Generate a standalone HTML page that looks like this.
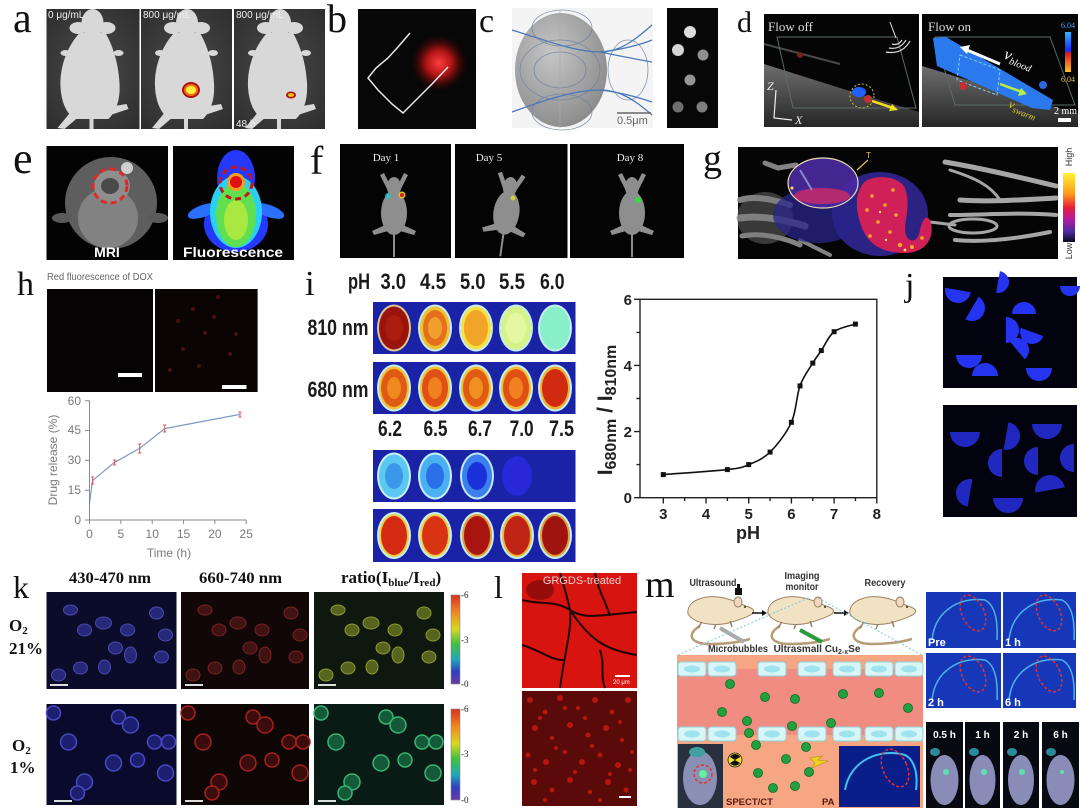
<!DOCTYPE html>
<html><head><meta charset="utf-8">
<style>
html,body{margin:0;padding:0;background:#fff;}
svg{display:block;}
text{font-family:"Liberation Sans",sans-serif;}
.sf, .sf text, text.sf{font-family:"Liberation Serif",serif;}
</style></head><body>
<svg width="1080" height="809" viewBox="0 0 1080 809" xmlns="http://www.w3.org/2000/svg">
<defs>
<radialGradient id="rglow"><stop offset="0" stop-color="#ff4040"/><stop offset=".45" stop-color="#d01818" stop-opacity=".85"/><stop offset="1" stop-color="#500000" stop-opacity="0"/></radialGradient>
<radialGradient id="sph" cx=".4" cy=".35" r=".7"><stop offset="0" stop-color="#c6c6c6"/><stop offset="1" stop-color="#8a8a8a"/></radialGradient>
<linearGradient id="gcb" x1="0" y1="0" x2="0" y2="1"><stop offset="0" stop-color="#fff23a"/><stop offset=".3" stop-color="#ff9a1a"/><stop offset=".5" stop-color="#e8203a"/><stop offset=".68" stop-color="#b01aa0"/><stop offset=".85" stop-color="#4a2aa0"/><stop offset="1" stop-color="#0a0820"/></linearGradient>
<linearGradient id="kcb" x1="0" y1="0" x2="0" y2="1"><stop offset="0" stop-color="#d83020"/><stop offset=".2" stop-color="#f08a20"/><stop offset=".38" stop-color="#d8d820"/><stop offset=".55" stop-color="#40c040"/><stop offset=".72" stop-color="#20a8b8"/><stop offset=".86" stop-color="#3040c0"/><stop offset="1" stop-color="#6a3aa8"/></linearGradient>
<linearGradient id="dcb" x1="0" y1="0" x2="0" y2="1"><stop offset="0" stop-color="#30b8ff"/><stop offset=".45" stop-color="#1030ff"/><stop offset=".55" stop-color="#e02020"/><stop offset="1" stop-color="#f8c020"/></linearGradient>
<linearGradient id="tis" x1="0" y1="0" x2="0" y2="1"><stop offset="0" stop-color="#6e6e6e"/><stop offset="1" stop-color="#262626"/></linearGradient>
<radialGradient id="abg" cx=".5" cy=".5" r=".7"><stop offset="0" stop-color="#4a4a4a"/><stop offset="1" stop-color="#2e2e2e"/></radialGradient>
<g id="ms" fill="#d8d8d8">
 <ellipse cx="46" cy="14" rx="11" ry="14"/>
 <ellipse cx="32" cy="19" rx="9" ry="6"/>
 <ellipse cx="60" cy="19" rx="9" ry="6"/>
 <path d="M33 24 C22 36 13 56 14 78 C15 94 20 104 28 110 L62 110 C70 102 74 90 73 74 C72 54 66 36 59 24 Z"/>
 <ellipse cx="19" cy="44" rx="5" ry="3"/><ellipse cx="72" cy="44" rx="5" ry="3"/>
 <path d="M25 102 L11 119 L18 120 L32 108 Z"/>
 <path d="M62 98 L80 95 L82 100 L64 106 Z"/>
 <rect x="43" y="106" width="4" height="14"/>
</g>
<g id="fm" fill="#8e8e8e">
 <ellipse cx="0" cy="0" rx="7" ry="10"/>
 <path d="M-6 4 L-14 -12 L-10 -14 L-3 0 Z"/><path d="M6 4 L14 -12 L10 -14 L3 0 Z"/>
 <ellipse cx="0" cy="26" rx="13" ry="22"/>
 <path d="M-9 38 L-22 44 L-20 48 L-6 44 Z"/><path d="M9 38 L22 44 L20 48 L6 44 Z"/>
 <rect x="-1" y="44" width="2" height="26"/>
</g>
<g id="cellrow1">
 <ellipse cx="24" cy="18" rx="7" ry="5"/><ellipse cx="38" cy="38" rx="7" ry="6"/><ellipse cx="57" cy="31" rx="8" ry="6"/>
 <ellipse cx="81" cy="38" rx="7" ry="6"/><ellipse cx="110" cy="21" rx="7" ry="6"/><ellipse cx="119" cy="43" rx="7" ry="6"/>
 <ellipse cx="69" cy="56" rx="7" ry="6"/><ellipse cx="84" cy="63" rx="6" ry="8"/><ellipse cx="115" cy="65" rx="7" ry="6"/>
 <ellipse cx="34" cy="76" rx="7" ry="6"/><ellipse cx="58" cy="75" rx="6" ry="7"/><ellipse cx="12" cy="83" rx="7" ry="6"/>
</g>
<g id="cellrow2">
 <circle cx="7" cy="9" r="7"/><circle cx="22" cy="38" r="8"/><circle cx="72" cy="13" r="7"/><circle cx="84" cy="21" r="8"/>
 <circle cx="108" cy="38" r="7"/><circle cx="122" cy="38" r="7"/><circle cx="67" cy="59" r="8"/><circle cx="38" cy="78" r="8"/>
 <circle cx="31" cy="89" r="7"/><circle cx="91" cy="56" r="7"/><circle cx="119" cy="69" r="8"/>
</g>
<g id="rat">
 <path d="M-16,14 C-30,22 -26,32 -6,32 C10,32 24,30 34,27" fill="none" stroke="#b89c78" stroke-width="2.5"/>
 <path d="M-28,2 C-30,-12 -10,-18 8,-14 C18,-12 24,-8 30,-6 C36,-4 40,-2 36,2 C30,6 22,8 16,10 C4,14 -20,14 -28,2 Z" fill="#f2e2c4" stroke="#9a8262" stroke-width="1"/>
 <ellipse cx="22" cy="-10" rx="4" ry="5" fill="#f3d6c0" stroke="#9a8262" stroke-width="1"/>
 <path d="M-14,10 L-18,16 M0,12 L-2,17 M14,9 L16,15" stroke="#9a8262" stroke-width="1.5"/>
 <circle cx="29" cy="-5" r="1" fill="#333"/>
</g>
<g id="cell"><rect x="0" y="0" width="28" height="14" rx="3" fill="#d9f5f7" stroke="#8fd3dc" stroke-width="1"/><ellipse cx="14" cy="7" rx="8" ry="3.5" fill="#9fe3ee"/></g>
</defs>

<rect width="1080" height="809" fill="#fff"/>

<!-- labels -->
<g fill="#111">
<text class="sf" x="13" y="32" font-size="42">a</text>
<text class="sf" x="327" y="32" font-size="40">b</text>
<text class="sf" x="479" y="32" font-size="34">c</text>
<text class="sf" x="737" y="32" font-size="30">d</text>
<text class="sf" x="13" y="173" font-size="44">e</text>
<text class="sf" x="310" y="174" font-size="40">f</text>
<text class="sf" x="703" y="171" font-size="38">g</text>
<text class="sf" x="17" y="295" font-size="34">h</text>
<text class="sf" x="305" y="295" font-size="35">i</text>
<text class="sf" x="905" y="296" font-size="34">j</text>
<text class="sf" x="13" y="598" font-size="32">k</text>
<text class="sf" x="494" y="598" font-size="32">l</text>
<text class="sf" x="645" y="597" font-size="38">m</text>
</g>

<!-- a -->
<rect x="46.5" y="9" width="93" height="120" fill="url(#abg)"/>
<rect x="141" y="9" width="91" height="120" fill="url(#abg)"/>
<rect x="234" y="9" width="91" height="120" fill="url(#abg)"/>
<use href="#ms" transform="translate(46.5,9)"/>
<use href="#ms" transform="translate(141,9)"/>
<use href="#ms" transform="translate(234,9)"/>
<ellipse cx="191" cy="90" rx="9" ry="8" fill="#b01010"/>
<ellipse cx="191" cy="90" rx="7" ry="6" fill="#f07010"/>
<ellipse cx="191" cy="90" rx="5" ry="4" fill="#fff040"/>
<ellipse cx="291" cy="95" rx="5" ry="3.5" fill="#b01010"/>
<ellipse cx="291" cy="95" rx="3" ry="2" fill="#f0c020"/>
<g fill="#f0f0f0" font-size="10">
<text x="48" y="18">0 μg/mL</text>
<text x="143" y="18">800 μg/mL</text>
<text x="236" y="18">800 μg/mL</text>
<text x="236" y="127">48 h</text>
</g>

<!-- b -->
<rect x="358" y="9" width="118" height="120" fill="#070707"/>
<circle cx="439" cy="63" r="28" fill="url(#rglow)"/>
<polyline points="410,33 398,47 388,58 376,68 368,78 378,90 392,104 403,113 418,98 432,84 448,67" fill="none" stroke="#e8e8e8" stroke-width="1.5"/>

<!-- c -->
<rect x="512" y="8" width="141" height="120" fill="#f4f4f4"/>
<ellipse cx="561" cy="70" rx="46" ry="57" fill="url(#sph)"/>
<g fill="none" stroke="#6a7e9a" stroke-width=".8" opacity=".8">
<ellipse cx="560" cy="70" rx="26" ry="18"/>
<ellipse cx="560" cy="70" rx="40" ry="30"/>
<ellipse cx="628" cy="70" rx="20" ry="30"/>
<ellipse cx="562" cy="28" rx="30" ry="18"/>
<ellipse cx="562" cy="112" rx="30" ry="18"/>
<line x1="560" y1="10" x2="560" y2="128" stroke="#aaa"/>
</g>
<g fill="none" stroke="#4a78b8" stroke-width="1.3">
<path d="M512,30 C545,40 575,52 600,52 C620,52 635,40 652,25"/>
<path d="M600,52 C620,50 640,45 652,40"/>
<path d="M600,52 C620,56 640,60 652,62"/>
<path d="M512,112 C545,100 575,90 600,90 C620,90 635,100 652,115"/>
<path d="M600,90 C620,92 640,98 652,102"/>
</g>
<line x1="617" y1="113" x2="651" y2="113" stroke="#666" stroke-width="1.5"/>
<text x="617" y="124" font-size="11" fill="#666">0.5μm</text>
<rect x="667" y="8" width="51" height="120" fill="#070707"/>
<circle cx="690" cy="32" r="6" fill="#dcdcdc"/>
<circle cx="678" cy="50" r="6" fill="#d4d4d4"/>
<circle cx="703" cy="55" r="5.5" fill="#8e8e8e"/>
<circle cx="690" cy="80" r="5.5" fill="#959595"/>
<circle cx="678" cy="107" r="5.5" fill="#6e6e6e"/>
<circle cx="702" cy="107" r="5.5" fill="#7e7e7e"/>

<!-- d -->
<rect x="764" y="14" width="155" height="113" fill="#050505"/>
<rect x="922" y="14" width="156" height="113" fill="#050505"/>
<polygon points="764,64 840,88 919,112 919,127 764,127" fill="url(#tis)"/>
<polygon points="922,66 1000,90 1078,114 1078,127 922,127" fill="url(#tis)"/>
<line x1="764" y1="44" x2="840" y2="64" stroke="#4a4a4a" stroke-width="2"/>
<polygon points="777,37 897,37 916,108 793,108" fill="none" stroke="#5a6a6a" stroke-width="1"/>
<polygon points="935,37 1050,37 1075,105 955,105" fill="none" stroke="#5a6a6a" stroke-width="1"/>
<text class="sf" x="768" y="31" font-size="13" fill="#ddd">Flow off</text>
<text class="sf" x="928" y="31" font-size="13" fill="#ddd">Flow on</text>
<circle cx="800" cy="55" r="3" fill="#7a2020"/>
<circle cx="862" cy="96" r="12" fill="none" stroke="#c8c040" stroke-width="1" stroke-dasharray="2,2"/>
<ellipse cx="859" cy="92" rx="7" ry="5" fill="#2060ff"/>
<circle cx="868" cy="99" r="4" fill="#c03030"/>
<line x1="872" y1="101" x2="893" y2="108" stroke="#f0e020" stroke-width="2.5"/>
<polygon points="898,110 889,111 892,104" fill="#f0e020"/>
<line x1="890" y1="22" x2="896" y2="38" stroke="#eee" stroke-width="1"/>
<path d="M892,44 Q898,46 902,40 M889,48 Q900,50 906,40 M886,52 Q902,55 910,41" fill="none" stroke="#ddd" stroke-width="1.2"/>
<path d="M776,90 L774,118 L792,120" fill="none" stroke="#eee" stroke-width="1.2"/>
<text class="sf" x="767" y="90" font-size="12" font-style="italic" fill="#eee">Z</text>
<text class="sf" x="795" y="124" font-size="12" font-style="italic" fill="#eee">X</text>
<polygon points="933,38 946,37 1053,100 1050,110 1032,108 937,66" fill="#2a7aee"/>
<circle cx="1043" cy="85" r="4" fill="#2a6ae0"/>
<line x1="1000" y1="64" x2="967" y2="50" stroke="#fff" stroke-width="3"/>
<polygon points="960,47 970,45 967,54" fill="#fff"/>
<text class="sf" x="1003" y="58" font-size="16" font-style="italic" fill="#fff" transform="rotate(22 1003 58)">v<tspan font-size="10" dy="3">blood</tspan></text>
<polygon points="960,55 1000,70 997,95 957,80" fill="none" stroke="#80d0f0" stroke-width="1" stroke-dasharray="3,2"/>
<circle cx="963" cy="86" r="4" fill="#c03030"/>
<line x1="1000" y1="84" x2="1022" y2="92" stroke="#b8f040" stroke-width="2.5"/>
<polygon points="1027,94 1018,96 1021,88" fill="#b8f040"/>
<text class="sf" x="1008" y="107" font-size="12" font-style="italic" fill="#d8d020" transform="rotate(22 1008 107)">v<tspan font-size="9" dy="3">swarm</tspan></text>
<rect x="1065" y="32" width="6" height="40" fill="url(#dcb)"/>
<text class="sf" x="1061" y="28" font-size="8" fill="#4aa0ff">6.04</text>
<text class="sf" x="1061" y="82" font-size="8" fill="#d8c040">6.04</text>
<text class="sf" x="1054" y="114" font-size="10" fill="#fff">2 mm</text>
<rect x="1058" y="118" width="13" height="4" fill="#fff"/>

<!-- e -->
<rect x="46.5" y="146" width="121.5" height="114" fill="#030303"/>
<rect x="173" y="146" width="121" height="114" fill="#030303"/>
<ellipse cx="111" cy="203" rx="46" ry="46" fill="#5e5e5e"/>
<ellipse cx="108" cy="218" rx="30" ry="30" fill="#828282"/>
<ellipse cx="112" cy="186" rx="18" ry="16" fill="#8e8e8e"/>
<ellipse cx="110" cy="186" rx="9" ry="8" fill="#4a4a4a"/>
<ellipse cx="62" cy="218" rx="10" ry="5" fill="#5a5a5a"/>
<ellipse cx="158" cy="218" rx="10" ry="5" fill="#5a5a5a"/>
<circle cx="127" cy="168" r="6" fill="#cfcfcf"/>
<circle cx="110" cy="186" r="17" fill="none" stroke="#e02828" stroke-width="3" stroke-dasharray="6,4"/>
<text x="107" y="257" font-size="14" font-weight="bold" fill="#fff" text-anchor="middle">MRI</text>
<g>
<ellipse cx="236" cy="178" rx="19" ry="28" fill="#2438ff"/>
<ellipse cx="236" cy="224" rx="32" ry="28" fill="#2438ff"/>
<ellipse cx="203" cy="211" rx="16" ry="6" fill="#2a70ff" transform="rotate(-20 203 211)"/>
<ellipse cx="269" cy="211" rx="16" ry="6" fill="#2a70ff" transform="rotate(20 269 211)"/>
<ellipse cx="236" cy="212" rx="26" ry="36" fill="#2ad0f0"/>
<ellipse cx="236" cy="215" rx="20" ry="32" fill="#60e050"/>
<ellipse cx="236" cy="220" rx="12" ry="20" fill="#a8e840"/>
<circle cx="236" cy="182" r="9" fill="#f0a020"/>
<circle cx="236" cy="182" r="6" fill="#e01010"/>
<circle cx="236" cy="183" r="16" fill="none" stroke="#c01818" stroke-width="3" stroke-dasharray="6,4"/>
</g>
<text x="233" y="257" font-size="14" font-weight="bold" fill="#fff" text-anchor="middle" textLength="100" lengthAdjust="spacingAndGlyphs">Fluorescence</text>

<!-- f -->
<rect x="340" y="144" width="111" height="114" fill="#040404"/>
<rect x="455" y="144" width="112.5" height="114" fill="#040404"/>
<rect x="570" y="144" width="114" height="114" fill="#040404"/>
<g font-size="11" fill="#eee" text-anchor="middle">
<text class="sf" x="386" y="161">Day 1</text><text class="sf" x="489" y="161">Day 5</text><text class="sf" x="630" y="161">Day 8</text>
</g>
<use href="#fm" transform="translate(394,187)"/>
<use href="#fm" transform="translate(510,187) rotate(8)"/>
<use href="#fm" transform="translate(632,187)"/>
<circle cx="402" cy="195" r="3.5" fill="#e0c020"/><circle cx="402" cy="195" r="2" fill="#d02020"/>
<circle cx="388" cy="196" r="3" fill="#30c0d0" opacity=".8"/>
<circle cx="513" cy="198" r="2.5" fill="#c8d040"/>
<circle cx="638" cy="200" r="3" fill="#30e040"/>

<!-- g -->
<rect x="738" y="147" width="320" height="112" fill="#050505"/>
<g fill="none" stroke="#9a9a9a" stroke-linecap="round" opacity=".85">
<path d="M740,200 C755,195 775,200 790,205" stroke-width="6"/>
<path d="M740,218 C760,215 785,220 805,226" stroke-width="7"/>
<path d="M742,236 C760,232 785,238 800,245" stroke-width="5"/>
<path d="M765,163 L778,168 L796,165" stroke-width="5"/>
<path d="M800,240 L830,255" stroke-width="4"/>
</g>
<ellipse cx="765" cy="218" rx="28" ry="26" fill="#7a7a7a" opacity=".45"/>
<g fill="none" stroke="#b8b8b8" stroke-linecap="round" opacity=".9">
<path d="M945,162 C980,168 1010,175 1056,186" stroke-width="5"/>
<path d="M950,170 C975,178 990,185 1000,200" stroke-width="3"/>
<path d="M960,200 C990,202 1020,200 1056,198" stroke-width="5"/>
<path d="M950,215 C985,215 1020,212 1056,215" stroke-width="4"/>
<path d="M955,240 C985,243 1020,238 1050,232" stroke-width="4"/>
<ellipse cx="973" cy="226" rx="24" ry="7" stroke-width="3"/>
<path d="M930,222 L955,225" stroke-width="3"/>
</g>
<ellipse cx="880" cy="214" rx="48" ry="42" fill="#33289a" opacity=".85"/>
<ellipse cx="818" cy="215" rx="45" ry="28" fill="#28248a" opacity=".75"/>
<ellipse cx="823" cy="183" rx="35" ry="25" fill="#4a2aa0" opacity=".9"/>
<ellipse cx="822" cy="196" rx="28" ry="8" fill="#c82a68" opacity=".85"/>
<path d="M800,170 L812,190" stroke="#8888cc" stroke-width="2"/>
<path d="M862,185 C868,174 898,174 905,188 C912,208 902,225 906,235 C910,244 918,242 920,230 C922,220 926,214 930,220 C936,238 925,253 905,253 C880,253 866,243 860,222 C855,205 856,195 862,185 Z" fill="#d02058"/>
<g fill="#ffa828"><circle cx="872" cy="196" r="1.8"/><circle cx="885" cy="205" r="1.8"/><circle cx="878" cy="222" r="1.8"/><circle cx="900" cy="245" r="2.2"/><circle cx="912" cy="247" r="2"/><circle cx="893" cy="190" r="1.8"/><circle cx="870" cy="236" r="1.8"/><circle cx="890" cy="232" r="1.8"/><circle cx="922" cy="238" r="1.8"/><circle cx="896" cy="215" r="1.8"/><circle cx="867" cy="210" r="1.8"/></g>
<g fill="#ffe060"><circle cx="880" cy="212" r="1.2"/><circle cx="905" cy="250" r="1.4"/><circle cx="886" cy="240" r="1.2"/><circle cx="792" cy="188" r="1.5"/></g>
<ellipse cx="823" cy="183" rx="35" ry="25" fill="none" stroke="#e8dcb0" stroke-width="1.2"/>
<line x1="857" y1="170" x2="868" y2="160" stroke="#e8c060" stroke-width="1.2"/>
<text x="866" y="158" font-size="8" fill="#e8c060">T</text>
<rect x="1063" y="173" width="12" height="69" fill="url(#gcb)"/>
<text x="0" y="0" font-size="9" fill="#333" text-anchor="middle" transform="translate(1072,157) rotate(-90)">High</text>
<text x="0" y="0" font-size="9" fill="#333" text-anchor="middle" transform="translate(1072,251) rotate(-90)">Low</text>

<!-- h -->
<text x="47" y="280" font-size="10.5" fill="#666" textLength="106" lengthAdjust="spacingAndGlyphs">Red fluorescence of DOX</text>
<rect x="47" y="289" width="106" height="103" fill="#050303"/>
<rect x="155" y="289" width="102.6" height="103" fill="#0a0404"/>
<g fill="#4a1010"><circle cx="178" cy="321" r="2"/><circle cx="193" cy="309" r="2"/><circle cx="205" cy="333" r="2"/><circle cx="183" cy="349" r="2"/><circle cx="214" cy="317" r="2"/><circle cx="199" cy="366" r="2"/><circle cx="230" cy="354" r="2"/><circle cx="170" cy="370" r="2"/><circle cx="218" cy="297" r="2"/><circle cx="236" cy="334" r="2"/></g>
<rect x="118" y="373" width="24" height="4" fill="#fff"/>
<rect x="222" y="385" width="24.5" height="4" fill="#fff"/>
<g stroke="#8a8a8a" stroke-width="1" fill="none">
<path d="M89.5,400.7 L89.5,520 L246.2,520"/>
<path d="M85,520 H89.5 M85,490.2 H89.5 M85,460.4 H89.5 M85,430.5 H89.5 M85,400.7 H89.5"/>
<path d="M89.5,520 V524 M120.85,520 V524 M152.2,520 V524 M183.55,520 V524 M214.9,520 V524 M246.2,520 V524"/>
</g>
<g font-size="12" fill="#7a7a7a">
<g text-anchor="end"><text x="81" y="524">0</text><text x="81" y="494">15</text><text x="81" y="464">30</text><text x="81" y="434">45</text><text x="81" y="405">60</text></g>
<g text-anchor="middle"><text x="89.5" y="538">0</text><text x="120.85" y="538">5</text><text x="152.2" y="538">10</text><text x="183.55" y="538">15</text><text x="214.9" y="538">20</text><text x="246.2" y="538">25</text></g>
<text x="169" y="557" text-anchor="middle">Time (h)</text>
<text x="0" y="0" text-anchor="middle" transform="translate(57,460) rotate(-90)">Drug release (%)</text>
</g>
<polyline points="89.5,503.3 92.6,480.6 114.6,462.3 139.7,448.4 164.7,428.6 240,414.4" fill="none" stroke="#7d9ac8" stroke-width="1.2"/>
<g stroke="#e05858" stroke-width="1" fill="none">
<path d="M92.6,477 V484 M91,477 H94.2 M91,484 H94.2"/>
<path d="M114.6,460 V465 M113,460 H116.2 M113,465 H116.2"/>
<path d="M139.7,444 V453 M138,444 H141.4 M138,453 H141.4"/>
<path d="M164.7,425 V432 M163,425 H166.4 M163,432 H166.4"/>
<path d="M240,412 V417 M238.4,412 H241.6 M238.4,417 H241.6"/>
<path d="M89.5,498 V508"/>
</g>

<!-- i wells -->
<g font-weight="bold" font-size="22" fill="#1a1a1a">
<text x="348" y="289" textLength="22" lengthAdjust="spacingAndGlyphs">pH</text>
<text x="380.5" y="289" textLength="25.5" lengthAdjust="spacingAndGlyphs">3.0</text>
<text x="420" y="289" textLength="26" lengthAdjust="spacingAndGlyphs">4.5</text>
<text x="460" y="289" textLength="25.5" lengthAdjust="spacingAndGlyphs">5.0</text>
<text x="499" y="289" textLength="26" lengthAdjust="spacingAndGlyphs">5.5</text>
<text x="540" y="289" textLength="24.5" lengthAdjust="spacingAndGlyphs">6.0</text>
<text x="307.5" y="335" textLength="61" lengthAdjust="spacingAndGlyphs">810 nm</text>
<text x="307.5" y="397" textLength="61" lengthAdjust="spacingAndGlyphs">680 nm</text>
<text x="378" y="436" textLength="24" lengthAdjust="spacingAndGlyphs">6.2</text>
<text x="423.5" y="436" textLength="24" lengthAdjust="spacingAndGlyphs">6.5</text>
<text x="468" y="436" textLength="24" lengthAdjust="spacingAndGlyphs">6.7</text>
<text x="509.6" y="436" textLength="24" lengthAdjust="spacingAndGlyphs">7.0</text>
<text x="549" y="436" textLength="25" lengthAdjust="spacingAndGlyphs">7.5</text>
</g>
<rect x="373" y="302" width="202.5" height="52" fill="#1a22a6"/>
<rect x="373" y="362" width="202.5" height="52" fill="#1a22a6"/>
<rect x="373" y="450" width="202.5" height="52" fill="#1a22a6"/>
<rect x="373" y="509" width="202.5" height="53" fill="#1a22a6"/>
<g transform="translate(394,328)"><ellipse rx="17" ry="23.5" fill="#d8c898"/><ellipse rx="15" ry="21.5" fill="#9a140c"/><ellipse rx="9" ry="13" fill="#b02010" opacity=".7"/></g>
<g transform="translate(435,328)"><ellipse rx="17" ry="23.5" fill="#c8ecf4"/><ellipse rx="15" ry="21.5" fill="#f0c030"/><ellipse rx="12" ry="18" fill="#e4701c"/><ellipse rx="7" ry="11" fill="#f0a030"/></g>
<g transform="translate(476,328)"><ellipse rx="17" ry="23.5" fill="#c8ecf4"/><ellipse rx="15" ry="21.5" fill="#f8e040"/><ellipse rx="12" ry="18" fill="#f0a428"/></g>
<g transform="translate(516,328)"><ellipse rx="17" ry="23.5" fill="#c8ecf4"/><ellipse rx="15" ry="21.5" fill="#d4f488"/><ellipse rx="10" ry="15" fill="#e4f8a4"/></g>
<g transform="translate(555,328)"><ellipse rx="17" ry="23.5" fill="#c8ecf4"/><ellipse rx="15" ry="21.5" fill="#88f0c8"/></g>
<g transform="translate(394,388)"><ellipse rx="17" ry="23.5" fill="#c8ecf4"/><ellipse rx="15" ry="21.5" fill="#f0c030"/><ellipse rx="13" ry="19" fill="#e05a14"/><ellipse rx="7" ry="11" fill="#f08a20"/></g>
<g transform="translate(435,388)"><ellipse rx="17" ry="23.5" fill="#c8ecf4"/><ellipse rx="15" ry="21.5" fill="#f0c030"/><ellipse rx="13" ry="19" fill="#e05014"/><ellipse rx="7" ry="11" fill="#f08020"/></g>
<g transform="translate(476,388)"><ellipse rx="17" ry="23.5" fill="#c8ecf4"/><ellipse rx="15" ry="21.5" fill="#f0c030"/><ellipse rx="13" ry="19" fill="#e05a14"/><ellipse rx="7" ry="11" fill="#f09020"/></g>
<g transform="translate(516,388)"><ellipse rx="17" ry="23.5" fill="#c8ecf4"/><ellipse rx="15" ry="21.5" fill="#f0c030"/><ellipse rx="13" ry="19" fill="#e05014"/><ellipse rx="7" ry="11" fill="#f08020"/></g>
<g transform="translate(555,388)"><ellipse rx="17" ry="23.5" fill="#c8ecf4"/><ellipse rx="15" ry="21.5" fill="#f0b030"/><ellipse rx="13" ry="19" fill="#d02a10"/></g>
<g transform="translate(394,476)"><ellipse rx="17" ry="23.5" fill="#c8f0f8"/><ellipse rx="15" ry="21.5" fill="#5ac8f0"/><ellipse rx="9" ry="13" fill="#3a98ec"/></g>
<g transform="translate(435,476)"><ellipse rx="17" ry="23.5" fill="#c8f0f8"/><ellipse rx="15" ry="21.5" fill="#4ab0f0"/><ellipse rx="9" ry="13" fill="#2a70e8"/></g>
<g transform="translate(477,476)"><ellipse rx="17" ry="23.5" fill="#c0e8f8"/><ellipse rx="15" ry="21.5" fill="#3a80ee"/><ellipse rx="10" ry="14" fill="#1a30d8"/></g>
<ellipse cx="517" cy="476" rx="15" ry="20" fill="#2828d8"/>
<g transform="translate(394,535.5)"><ellipse rx="17" ry="23.5" fill="#c8ecf4"/><ellipse rx="15" ry="21.5" fill="#f0d040"/><ellipse rx="13" ry="19.5" fill="#d42a12"/></g>
<g transform="translate(435,535.5)"><ellipse rx="17" ry="23.5" fill="#c8ecf4"/><ellipse rx="15" ry="21.5" fill="#f0d040"/><ellipse rx="13" ry="19.5" fill="#d83414"/></g>
<g transform="translate(477,535.5)"><ellipse rx="17" ry="23.5" fill="#c8ecf4"/><ellipse rx="15" ry="21.5" fill="#e0a030"/><ellipse rx="13" ry="19.5" fill="#a81410"/></g>
<g transform="translate(517,535.5)"><ellipse rx="17" ry="23.5" fill="#c8ecf4"/><ellipse rx="15" ry="21.5" fill="#e8b838"/><ellipse rx="13" ry="19.5" fill="#c02414"/></g>
<g transform="translate(555,535.5)"><ellipse rx="17" ry="23.5" fill="#c8ecf4"/><ellipse rx="15" ry="21.5" fill="#e0a030"/><ellipse rx="13" ry="19.5" fill="#a01410"/></g>

<!-- i chart -->
<rect x="640" y="299.3" width="236.8" height="198.4" fill="none" stroke="#222" stroke-width="1.4"/>
<g stroke="#222" stroke-width="1.4">
<path d="M640,497.7 H634 M640,431.6 H634 M640,365.4 H634 M640,299.3 H634"/>
<path d="M640,464.6 H636.5 M640,398.5 H636.5 M640,332.4 H636.5"/>
<path d="M663.3,497.7 V503.5 M706,497.7 V503.5 M748.7,497.7 V503.5 M791.4,497.7 V503.5 M834.1,497.7 V503.5 M876.8,497.7 V503.5"/>
<path d="M684.65,497.7 V501 M727.35,497.7 V501 M770.05,497.7 V501 M812.75,497.7 V501 M855.45,497.7 V501"/>
</g>
<g font-weight="bold" font-size="15" fill="#222">
<g text-anchor="end"><text x="632" y="503">0</text><text x="632" y="437">2</text><text x="632" y="371">4</text><text x="632" y="305">6</text></g>
<g text-anchor="middle"><text x="663.3" y="519">3</text><text x="706" y="519">4</text><text x="748.7" y="519">5</text><text x="791.4" y="519">6</text><text x="834.1" y="519">7</text><text x="876.8" y="519">8</text></g>
<text x="748" y="539" text-anchor="middle" font-size="18">pH</text>
<text x="0" y="0" text-anchor="middle" font-size="21" transform="translate(612,410) rotate(-90)">I<tspan font-size="16" dy="4">680nm</tspan><tspan dy="-4"> / I</tspan><tspan font-size="16" dy="4">810nm</tspan></text>
</g>
<g transform="translate(663.3 497.7) scale(42.7 -33.07) translate(-3 0)">
<path d="M3 0.7 C3.25 0.725 4.167 0.8 4.5 0.85 C4.833 0.9 4.833 0.912 5 1.0 C5.167 1.088 5.333 1.167 5.5 1.38 C5.667 1.593 5.883 1.947 6 2.28 C6.117 2.613 6.117 3.082 6.2 3.38 C6.283 3.678 6.417 3.892 6.5 4.07 C6.583 4.248 6.617 4.292 6.7 4.45 C6.783 4.608 6.867 4.887 7 5.02 C7.133 5.153 7.417 5.212 7.5 5.25" fill="none" stroke="#111" stroke-width="1.6" vector-effect="non-scaling-stroke"/>
</g>
<g fill="#111">
<rect x="660.8" y="472.1" width="5" height="5"/><rect x="724.9" y="467.1" width="5" height="5"/><rect x="746.2" y="462.1" width="5" height="5"/>
<rect x="767.6" y="449.6" width="5" height="5"/><rect x="788.9" y="419.8" width="5" height="5"/><rect x="797.5" y="383.4" width="5" height="5"/>
<rect x="810.3" y="360.6" width="5" height="5"/><rect x="818.8" y="348" width="5" height="5"/><rect x="831.6" y="329.2" width="5" height="5"/>
<rect x="852.9" y="321.6" width="5" height="5"/>
</g>

<!-- j -->
<rect x="943" y="277" width="134" height="111" fill="#030310"/>
<rect x="943" y="405" width="134" height="112" fill="#030310"/>
<g fill="#2434f0">
<path d="M-13,0 A13,13 0 0 0 13,0 Z" transform="translate(958,290) rotate(10)"/>
<path d="M-13,0 A13,13 0 0 0 13,0 Z" transform="translate(972,308) rotate(-60)"/>
<path d="M-11,0 A11,11 0 0 0 11,0 Z" transform="translate(998,282) rotate(-80)"/>
<path d="M-12,0 A12,12 0 0 0 12,0 Z" transform="translate(1024,314) rotate(180)"/>
<path d="M-13,0 A13,13 0 0 0 13,0 Z" transform="translate(1006,330) rotate(-90)"/>
<path d="M-12,0 A12,12 0 0 0 12,0 Z" transform="translate(1032,332) rotate(20)"/>
<path d="M-12,0 A12,12 0 0 0 12,0 Z" transform="translate(1017,350) rotate(-130)"/>
<path d="M-13,0 A13,13 0 0 0 13,0 Z" transform="translate(969,355) rotate(0)"/>
<path d="M-13,0 A13,13 0 0 0 13,0 Z" transform="translate(985,376) rotate(180)"/>
<path d="M-13,0 A13,13 0 0 0 13,0 Z" transform="translate(1039,368) rotate(0)"/>
<path d="M-10,0 A10,10 0 0 0 10,0 Z" transform="translate(1070,286) rotate(0)"/>
</g>
<g fill="#2028c0">
<path d="M-15,0 A15,15 0 0 0 15,0 Z" transform="translate(965,432) rotate(0)"/>
<path d="M-14,0 A14,14 0 0 0 14,0 Z" transform="translate(1006,436) rotate(-80)"/>
<path d="M-15,0 A15,15 0 0 0 15,0 Z" transform="translate(1047,424) rotate(0)"/>
<path d="M-14,0 A14,14 0 0 0 14,0 Z" transform="translate(1002,463) rotate(90)"/>
<path d="M-14,0 A14,14 0 0 0 14,0 Z" transform="translate(1038,461) rotate(90)"/>
<path d="M-14,0 A14,14 0 0 0 14,0 Z" transform="translate(1074,458) rotate(90)"/>
<path d="M-14,0 A14,14 0 0 0 14,0 Z" transform="translate(970,493) rotate(100)"/>
<path d="M-15,0 A15,15 0 0 0 15,0 Z" transform="translate(1008,498) rotate(0)"/>
<path d="M-15,0 A15,15 0 0 0 15,0 Z" transform="translate(1050,490) rotate(170)"/>
</g>

<!-- k -->
<g font-weight="bold" fill="#111">
<text class="sf" x="69" y="583" font-size="16" textLength="82" lengthAdjust="spacingAndGlyphs">430-470 nm</text>
<text class="sf" x="199" y="583" font-size="16" textLength="83" lengthAdjust="spacingAndGlyphs">660-740 nm</text>
<text class="sf" x="341" y="583" font-size="17">ratio(I<tspan font-size="11" dy="3">blue</tspan><tspan dy="-3">/I</tspan><tspan font-size="11" dy="3">red</tspan><tspan dy="-3">)</tspan></text>
<text class="sf" x="9" y="631" font-size="17">O<tspan font-size="11" dy="3">2</tspan></text>
<text class="sf" x="9" y="654" font-size="17">21%</text>
<text class="sf" x="12" y="751" font-size="17">O<tspan font-size="11" dy="3">2</tspan></text>
<text class="sf" x="10" y="773" font-size="17">1%</text>
</g>
<rect x="46.5" y="592" width="130" height="97" fill="#0b0b2a"/>
<rect x="181" y="592" width="128" height="97" fill="#110707"/>
<rect x="314" y="592" width="130" height="97" fill="#0e180e"/>
<rect x="46.5" y="704" width="130" height="101" fill="#0a0a2c"/>
<rect x="181" y="704" width="128" height="101" fill="#0e0505"/>
<rect x="314" y="704" width="130" height="101" fill="#0a1a14"/>
<use href="#cellrow1" transform="translate(46.5,592)" fill="#28287a" stroke="#4a4ab0" stroke-width="1"/>
<use href="#cellrow1" transform="translate(181,592)" fill="#401212" stroke="#7a2222" stroke-width="1"/>
<use href="#cellrow1" transform="translate(314,592)" fill="#56641e" stroke="#8e9a34" stroke-width="1"/>
<use href="#cellrow2" transform="translate(46.5,704)" fill="#1e1e70" stroke="#4848c0" stroke-width="1.5"/>
<use href="#cellrow2" transform="translate(181,704)" fill="#3a0c0c" stroke="#a82020" stroke-width="1.5"/>
<use href="#cellrow2" transform="translate(314,704)" fill="#145a38" stroke="#38b474" stroke-width="1.5"/>
<g fill="#ddd">
<rect x="50" y="684" width="18" height="2"/><rect x="185" y="684" width="18" height="2"/><rect x="318" y="684" width="18" height="2"/>
<rect x="54" y="800" width="18" height="2"/><rect x="185" y="800" width="18" height="2"/><rect x="318" y="800" width="18" height="2"/>
</g>
<rect x="451" y="595" width="9" height="89" fill="url(#kcb)" stroke="#888" stroke-width=".6"/>
<rect x="451" y="709" width="9" height="91" fill="url(#kcb)" stroke="#888" stroke-width=".6"/>
<g font-size="9" fill="#222">
<text class="sf" x="461" y="598">-6</text><text class="sf" x="461" y="643">-3</text><text class="sf" x="461" y="687">-0</text>
<text class="sf" x="461" y="712">-6</text><text class="sf" x="461" y="757">-3</text><text class="sf" x="461" y="803">-0</text>
</g>

<!-- l -->
<rect x="522" y="573" width="115" height="115" fill="#d81410"/>
<g fill="none" stroke="#200404" stroke-width="2">
<path d="M522,600 C540,605 555,600 570,610 C585,620 600,615 637,612"/>
<path d="M560,573 C565,590 568,600 570,610 C572,630 565,650 560,688"/>
<path d="M570,610 C590,640 605,650 637,655"/>
<path d="M522,645 C540,650 550,660 563,660"/>
<path d="M595,573 C598,590 605,600 610,616"/>
<path d="M600,650 C605,665 600,675 605,688"/>
</g>
<ellipse cx="540" cy="590" rx="14" ry="10" fill="#6a0a08" opacity=".6"/>
<text x="582" y="584" font-size="11" fill="#e8d0d0" text-anchor="middle">GRGDS-treated</text>
<rect x="615" y="675" width="15" height="2" fill="#fff"/>
<text x="613" y="684" font-size="6" fill="#fff">20 μm</text>
<rect x="522" y="691" width="115" height="115" fill="#5a0a08"/>
<g fill="#c81812" opacity=".85">
<circle cx="530" cy="700" r="3"/><circle cx="545" cy="712" r="2.5"/><circle cx="560" cy="698" r="3"/><circle cx="578" cy="708" r="2"/><circle cx="595" cy="700" r="3"/><circle cx="612" cy="712" r="2.5"/><circle cx="628" cy="700" r="3"/>
<circle cx="535" cy="728" r="3"/><circle cx="552" cy="738" r="2"/><circle cx="570" cy="725" r="3"/><circle cx="588" cy="735" r="2.5"/><circle cx="606" cy="728" r="3"/><circle cx="622" cy="740" r="2"/>
<circle cx="528" cy="755" r="2.5"/><circle cx="546" cy="762" r="3"/><circle cx="565" cy="752" r="2"/><circle cx="582" cy="762" r="3"/><circle cx="600" cy="755" r="2.5"/><circle cx="618" cy="765" r="3"/><circle cx="632" cy="752" r="2"/>
<circle cx="534" cy="782" r="3"/><circle cx="552" cy="790" r="2.5"/><circle cx="570" cy="780" r="3"/><circle cx="590" cy="792" r="2"/><circle cx="608" cy="782" r="3"/><circle cx="626" cy="790" r="2.5"/>
<circle cx="540" cy="718" r="2"/><circle cx="585" cy="718" r="2"/><circle cx="620" cy="722" r="2"/><circle cx="556" cy="748" r="2"/><circle cx="592" cy="746" r="2"/><circle cx="535" cy="770" r="2"/><circle cx="575" cy="772" r="2"/><circle cx="610" cy="774" r="2"/><circle cx="545" cy="800" r="2"/><circle cx="600" cy="800" r="2"/><circle cx="565" cy="708" r="2"/><circle cx="630" cy="770" r="2"/>
</g>
<rect x="619" y="796" width="12" height="2" fill="#fff"/>

<!-- m -->
<g font-weight="bold" font-size="10" fill="#333" text-anchor="middle">
<text x="713" y="586" textLength="47" lengthAdjust="spacingAndGlyphs">Ultrasound</text>
<text x="802" y="579" textLength="35" lengthAdjust="spacingAndGlyphs">Imaging</text>
<text x="802" y="590" textLength="33" lengthAdjust="spacingAndGlyphs">monitor</text>
<text x="885" y="586" textLength="41" lengthAdjust="spacingAndGlyphs">Recovery</text>
<text x="738" y="652" textLength="60" lengthAdjust="spacingAndGlyphs">Microbubbles</text>
<text x="817" y="652">Ultrasmall Cu<tspan font-size="7" dy="2">2-x</tspan><tspan dy="-2">Se</tspan></text>
</g>
<use href="#rat" transform="translate(716,612)"/>
<use href="#rat" transform="translate(796,612)"/>
<use href="#rat" transform="translate(878,612)"/>
<rect x="735" y="588" width="7" height="7" fill="#111"/><rect x="737" y="584" width="3" height="5" fill="#111"/>
<line x1="720" y1="628" x2="744" y2="642" stroke="#aaa" stroke-width="4"/>
<line x1="800" y1="630" x2="822" y2="642" stroke="#2a9a3a" stroke-width="4"/>
<g stroke="#111" stroke-width="1.5"><line x1="752" y1="613" x2="764" y2="613"/><line x1="834" y1="613" x2="846" y2="613"/></g>
<polygon points="767,613 762,610 762,616" fill="#111"/><polygon points="849,613 844,610 844,616" fill="#111"/>
<g stroke="#7cc8d8" stroke-width="1" stroke-dasharray="2,2"><line x1="808" y1="598" x2="678" y2="655"/><line x1="818" y1="598" x2="922" y2="655"/></g>
<rect x="677" y="655" width="246" height="153" fill="#f6a682"/>
<rect x="677" y="669" width="246" height="66" fill="#f18c82"/>
<use href="#cell" transform="translate(678,662)"/><use href="#cell" transform="translate(708,662)"/><use href="#cell" transform="translate(758,662)"/><use href="#cell" transform="translate(798,662)"/><use href="#cell" transform="translate(833,662)"/><use href="#cell" transform="translate(865,662)"/><use href="#cell" transform="translate(895,662)"/>
<use href="#cell" transform="translate(678,727)"/><use href="#cell" transform="translate(708,727)"/><use href="#cell" transform="translate(758,727)"/><use href="#cell" transform="translate(798,727)"/><use href="#cell" transform="translate(833,727)"/><use href="#cell" transform="translate(865,727)"/><use href="#cell" transform="translate(895,727)"/>
<g fill="#22a040" stroke="#0e6a22" stroke-width=".8">
<circle cx="730" cy="684" r="4.5"/><circle cx="765" cy="697" r="4.5"/><circle cx="795" cy="699" r="4.5"/><circle cx="843" cy="694" r="4.5"/><circle cx="879" cy="693" r="4.5"/><circle cx="908" cy="708" r="4.5"/>
<circle cx="722" cy="712" r="4.5"/><circle cx="747" cy="721" r="4.5"/><circle cx="792" cy="726" r="4.5"/><circle cx="831" cy="723" r="4.5"/><circle cx="749" cy="733" r="4.5"/><circle cx="756" cy="745" r="4.5"/>
<circle cx="806" cy="747" r="4.5"/><circle cx="786" cy="759" r="4.5"/><circle cx="809" cy="772" r="4.5"/><circle cx="758" cy="773" r="4.5"/><circle cx="773" cy="788" r="4.5"/><circle cx="795" cy="786" r="4.5"/>
</g>
<rect x="678" y="744" width="45" height="64" fill="#283040"/>
<ellipse cx="700" cy="778" rx="17" ry="27" fill="#8a90b4"/>
<ellipse cx="697" cy="752" rx="8" ry="5" fill="#40a0a0"/>
<circle cx="703" cy="774" r="9" fill="none" stroke="#e03030" stroke-width="1.5" stroke-dasharray="3,2"/>
<circle cx="703" cy="774" r="4" fill="#60f0a0"/>
<circle cx="735" cy="760" r="7" fill="#f0e020" stroke="#222" stroke-width=".8"/>
<path d="M735,760 L735,754 A6,6 0 0 1 740.2,757 Z M735,760 L730,757 A6,6 0 0 1 735,754 Z M735,760 L740,763 A6,6 0 0 1 730,763 Z" fill="#111"/>
<path d="M810,758 L822,756 L818,760 L828,761 L812,768 L815,763 Z" fill="#f0d020" stroke="#b09010" stroke-width=".6"/>
<g font-weight="bold" font-size="9.5" fill="#5a1a10"><text x="726" y="805">SPECT/CT</text><text x="822" y="805">PA</text></g>
<rect x="839" y="746" width="81" height="61" fill="#0a1e8a"/>
<path d="M845,790 C850,760 880,748 905,755 C915,760 918,775 916,790" fill="none" stroke="#40c0f0" stroke-width="2"/>
<ellipse cx="895" cy="768" rx="12" ry="20" transform="rotate(-25 895 768)" fill="none" stroke="#e03030" stroke-width="1.5" stroke-dasharray="3,2"/>
<g>
<rect x="926" y="592" width="75" height="56" fill="#1638b8"/>
<rect x="1003" y="592" width="73" height="56" fill="#1638b8"/>
<rect x="926" y="653" width="75" height="55" fill="#1638b8"/>
<rect x="1003" y="653" width="73" height="55" fill="#1638b8"/>
<g fill="none" stroke="#5ad0f8" stroke-width="1.5" opacity=".8">
<path d="M932,640 C935,610 960,597 985,600 C995,605 998,620 997,640"/>
<path d="M1009,640 C1012,610 1037,597 1062,600 C1072,605 1075,620 1074,640"/>
<path d="M932,700 C935,670 960,657 985,660 C995,665 998,680 997,700"/>
<path d="M1009,700 C1012,670 1037,657 1062,660 C1072,665 1075,680 1074,700"/>
</g>
<g fill="none" stroke="#e03030" stroke-width="1.5" stroke-dasharray="3,2">
<ellipse cx="973" cy="613" rx="11" ry="19" transform="rotate(-25 973 613)"/>
<ellipse cx="1049" cy="613" rx="11" ry="19" transform="rotate(-25 1049 613)"/>
<ellipse cx="973" cy="674" rx="11" ry="19" transform="rotate(-25 973 674)"/>
<ellipse cx="1049" cy="674" rx="11" ry="19" transform="rotate(-25 1049 674)"/>
</g>
<g font-weight="bold" font-size="11" fill="#fff">
<text x="928" y="646">Pre</text><text x="1005" y="646">1 h</text><text x="928" y="706">2 h</text><text x="1005" y="706">6 h</text>
</g>
</g>
<g>
<rect x="926" y="722" width="37" height="86" fill="#080a12"/>
<rect x="965" y="722" width="35" height="86" fill="#080a12"/>
<rect x="1003" y="722" width="36" height="86" fill="#080a12"/>
<rect x="1042" y="722" width="37" height="86" fill="#080a12"/>
<g fill="#8a8cb8">
<ellipse cx="944.5" cy="780" rx="14" ry="25"/><ellipse cx="982.5" cy="780" rx="13" ry="25"/><ellipse cx="1021" cy="780" rx="13" ry="25"/><ellipse cx="1060.5" cy="780" rx="14" ry="25"/>
</g>
<g fill="#2a8a9a"><ellipse cx="935" cy="752" rx="5" ry="4"/><ellipse cx="974" cy="752" rx="5" ry="4"/><ellipse cx="1012" cy="752" rx="5" ry="4"/><ellipse cx="1051" cy="752" rx="5" ry="4"/></g>
<g fill="#60e0b0"><circle cx="946" cy="772" r="3"/><circle cx="984" cy="772" r="3"/><circle cx="1022" cy="772" r="3"/><circle cx="1062" cy="772" r="2"/></g>
<g font-weight="bold" font-size="10" fill="#fff" text-anchor="middle">
<text x="944.5" y="738">0.5 h</text><text x="982.5" y="738">1 h</text><text x="1021" y="738">2 h</text><text x="1060.5" y="738">6 h</text>
</g>
</g>
</svg>
</body></html>
